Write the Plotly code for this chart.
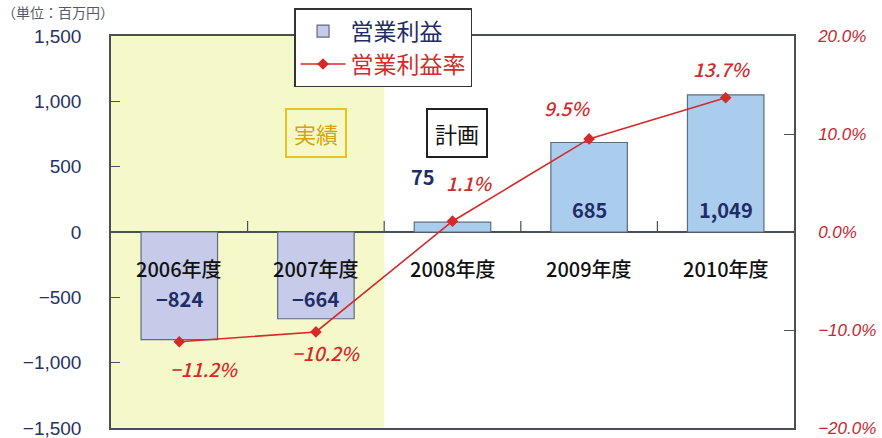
import plotly.graph_objects as go

categories = ["2006年度", "2007年度", "2008年度", "2009年度", "2010年度"]
profit = [-824, -664, 75, 685, 1049]
margin_pct = [-11.2, -10.2, 1.1, 9.5, 13.7]
left_ticks = [-1500, -1000, -500, 0, 500, 1000, 1500]
right_ticks = [-20, -10, 0, 10, 20]

JP = "Noto Sans CJK JP"
NAVY = "#1f2c66"
RED = "#d42a2a"
AXIS = "#4a4f55"

x_idx = list(range(len(categories)))
bar_colors = ["#c5cbe8" if v < 0 else "#aacdee" for v in profit]

fig = go.Figure()
fig.add_trace(go.Bar(
    x=x_idx, y=profit, width=0.56, name="営業利益",
    marker=dict(color=bar_colors, line=dict(color="#5d6b80", width=1.2)),
))
fig.add_trace(go.Scatter(
    x=x_idx, y=margin_pct, yaxis="y2", mode="lines+markers",
    name="<span style='color:#d42a2a'>営業利益率</span>",
    line=dict(color=RED, width=1.6),
    marker=dict(symbol="diamond", size=9, color=RED),
))

# shaded "actual" region
fig.add_shape(type="rect", xref="x", yref="paper", x0=-0.5, x1=1.5, y0=0, y1=1,
              fillcolor="#f5f9c9", line=dict(width=0), layer="below")
# category boundary ticks on the zero line
for b in [0.5, 1.5, 2.5, 3.5]:
    fig.add_shape(type="line", xref="x", yref="y", x0=b, x1=b, y0=0, y1=85,
                  line=dict(color=AXIS, width=1.2))

ann = []
# category labels
for i, c in enumerate(categories):
    ann.append(dict(x=i, y=0, xref="x", yref="y", text=c, showarrow=False, yshift=-36,
                    font=dict(family=JP, size=20, color="#111111", weight=500)))
# bar value labels
bar_shift = [(0, -66), (0, -66), (-30, 46), (0, 23), (0, 23)]
for i, v in enumerate(profit):
    xs, ys = bar_shift[i]
    yv = v if i == 2 else 0
    ann.append(dict(x=i, y=yv, xref="x", yref="y", text=f"{v:,}".replace("-", "−"),
                    showarrow=False, xshift=xs, yshift=ys,
                    font=dict(family=JP, size=20, color=NAVY, weight="bold")))
# percent labels
pct_shift = [(25, -27), (10, -21), (16, 39), (-22, 31), (-4, 29)]
for i, p in enumerate(margin_pct):
    xs, ys = pct_shift[i]
    ann.append(dict(x=i, y=p, xref="x", yref="y2", text=f"<i>{p:.1f}%</i>".replace("-", "−"),
                    showarrow=False, xshift=xs, yshift=ys,
                    font=dict(family=JP, size=19, color=RED, weight=500)))
# phase boxes
ann.append(dict(x=1, y=754, xref="x", yref="y", text="実績", showarrow=False,
                font=dict(family=JP, size=22, color="#d9a20a"),
                bordercolor="#e8c21e", borderwidth=2, borderpad=7, bgcolor="#f5f9c9"))
ann.append(dict(x=2, y=754, xref="x", yref="y", text="計画", showarrow=False, xshift=4,
                font=dict(family=JP, size=22, color="#111111"),
                bordercolor="#222222", borderwidth=2, borderpad=7, bgcolor="white"))
# unit label
ann.append(dict(x=-0.163, y=1.06, xref="paper", yref="paper", text="（単位：百万円）",
                showarrow=False, xanchor="left", yanchor="middle",
                font=dict(family=JP, size=14, color="#555a66")))

fig.update_layout(
    width=882, height=438,
    margin=dict(l=111, r=88, t=36, b=10, autoexpand=False),
    paper_bgcolor="white", plot_bgcolor="white",
    showlegend=True,
    legend=dict(x=0.268, y=1.071, xanchor="left", yanchor="top",
                bgcolor="white", bordercolor="#333333", borderwidth=1.5,
                font=dict(family=JP, size=23, color=NAVY), traceorder="normal",
                itemwidth=45, tracegroupgap=0),
    xaxis=dict(range=[-0.5, 4.5], showticklabels=False, showgrid=False, zeroline=False,
               showline=True, mirror=True, linecolor=AXIS, linewidth=1.5, ticks=""),
    yaxis=dict(range=[-1500, 1500], tickvals=left_ticks, tickformat=",",
               showgrid=False, zeroline=True, zerolinecolor=AXIS, zerolinewidth=1.5,
               showline=True, linecolor=AXIS, linewidth=1.5,
               ticks="inside", ticklen=9, tickcolor=AXIS, ticklabeloverflow="allow",
               ticklabelstandoff=24,
               tickfont=dict(family="Liberation Sans", size=19, color="#243266")),
    yaxis2=dict(range=[-20, 20], tickvals=right_ticks, overlaying="y", side="right",
                ticktext=[f"<i>{t:.1f}%</i>".replace("-", "−") for t in right_ticks],
                showgrid=False, zeroline=False, showline=True, linecolor=AXIS, linewidth=1.5,
                ticks="inside", ticklen=10, tickcolor=AXIS, ticklabeloverflow="allow",
                ticklabelstandoff=19,
                tickfont=dict(family="Liberation Sans", size=17, color="#c8262e")),
    annotations=ann,
)

fig.write_html("out.html", config={"displayModeBar": False},
               post_script="document.body.style.margin='0';document.body.style.overflow='hidden';")
